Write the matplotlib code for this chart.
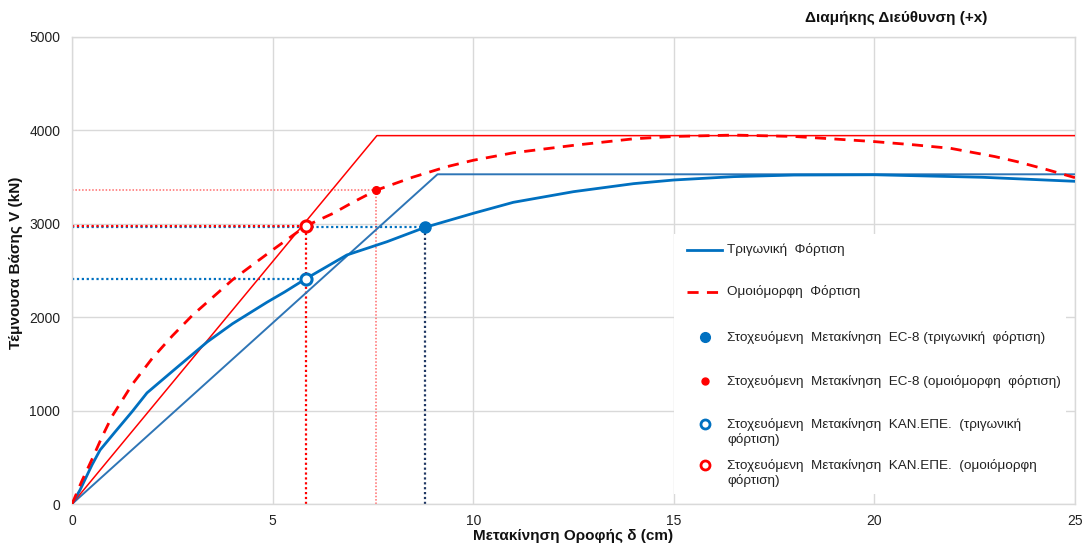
import matplotlib
matplotlib.use("Agg")
import matplotlib.pyplot as plt
from matplotlib.patches import Rectangle
from matplotlib.lines import Line2D

plt.rcParams['font.family'] = ['Liberation Sans', 'DejaVu Sans']

# ---------------- data ----------------
tri_x = [0, 0.2, 0.5, 0.7, 1.07, 1.5, 1.87, 2.5, 3.37, 4.0, 4.86, 5.3, 5.83, 6.85, 7.85, 8.8,
         10.0, 11.0, 12.5, 14.0, 15.0, 16.5, 18.0, 20.0, 21.0, 22.7, 25.0]
tri_v = [0, 150, 420, 578, 770, 990, 1190, 1420, 1735, 1930, 2160, 2270, 2412, 2666, 2808, 2962,
         3112, 3230, 3344, 3430, 3469, 3505, 3522, 3525, 3515, 3498, 3455]

uni_x = [0, 0.25, 0.5, 0.75, 1.0, 1.5, 2.0, 2.5, 3.0, 3.5, 4.0, 4.5, 5.0, 5.83, 6.5, 7.0, 7.58,
         8.5, 9.34, 10.0, 11.0, 12.5, 14.0, 15.0, 16.5, 18.0, 19.4, 20.0, 21.0, 21.9, 23.0, 23.56,
         24.3, 25.0]
uni_v = [0, 250, 480, 720, 940, 1280, 1560, 1800, 2020, 2210, 2400, 2560, 2720, 2977, 3110, 3230,
         3359, 3500, 3611, 3680, 3760, 3840, 3910, 3935, 3950, 3935, 3897, 3880, 3845, 3808, 3720,
         3665, 3580, 3494]

tri_bil_x = [0, 9.11, 25]
tri_bil_v = [0, 3530, 3530]
uni_bil_x = [0, 7.6, 25]
uni_bil_v = [0, 3944, 3944]

ec8_tri = (8.8, 2962)
ec8_uni = (7.58, 3359)
kan_tri = (5.83, 2412)
kan_uni = (5.83, 2977)

x_ticks = [0, 5, 10, 15, 20, 25]
y_ticks = [0, 1000, 2000, 3000, 4000, 5000]

title = "Διαμήκης Διεύθυνση (+x)"
xlabel = "Μετακίνηση Οροφής δ (cm)"
ylabel = "Τέμνουσα Βάσης V (kN)"
legend_labels = [
    "Τριγωνική  Φόρτιση",
    "Ομοιόμορφη  Φόρτιση",
    "Στοχευόμενη  Μετακίνηση  EC-8 (τριγωνική  φόρτιση)",
    "Στοχευόμενη  Μετακίνηση  EC-8 (ομοιόμορφη  φόρτιση)",
    "Στοχευόμενη  Μετακίνηση  ΚΑΝ.ΕΠΕ.  (τριγωνική\nφόρτιση)",
    "Στοχευόμενη  Μετακίνηση  ΚΑΝ.ΕΠΕ.  (ομοιόμορφη\nφόρτιση)",
]

# ---------------- style ----------------
BLUE = "#0070C0"
BLUE2 = "#2E75B6"
RED = "#FF0000"
LRED = "#FF6B6B"
NAVY = "#203864"
GRID = "#D9D9D9"

W, H = 1088, 545
fig = plt.figure(figsize=(W / 100, H / 100), dpi=100)
L, R, B, T = 72, 1075, 504, 37
ax = fig.add_axes([L / W, 1 - B / H, (R - L) / W, (B - T) / H])

ax.set_xlim(0, 25)
ax.set_ylim(0, 5000)
ax.set_xticks(x_ticks)
ax.set_yticks(y_ticks)
ax.grid(True, color=GRID, lw=1, zorder=0)
for s in ax.spines.values():
    s.set_color(GRID)
    s.set_linewidth(1)
ax.tick_params(length=0, labelsize=10, colors="#222222")
ax.tick_params(axis='x', pad=7)
ax.tick_params(axis='y', pad=8.5)

# guide lines (dotted)
dot = (0, (1, 1.2))
ax.plot([0, kan_tri[0]], [kan_tri[1]] * 2, color=BLUE, lw=1.6, ls=dot, zorder=2)
ax.plot([0, ec8_tri[0]], [ec8_tri[1]] * 2, color=BLUE, lw=1.6, ls=dot, zorder=2)
ax.plot([ec8_tri[0]] * 2, [0, ec8_tri[1]], color=NAVY, lw=1.6, ls=dot, zorder=2)
ax.plot([0, kan_uni[0]], [kan_uni[1]] * 2, color=RED, lw=1.6, ls=dot, zorder=2)
ax.plot([kan_uni[0]] * 2, [0, kan_uni[1]], color=RED, lw=1.6, ls=dot, zorder=2)
ax.plot([0, ec8_uni[0]], [ec8_uni[1]] * 2, color=LRED, lw=1.1, ls=dot, zorder=2)
ax.plot([ec8_uni[0]] * 2, [0, ec8_uni[1]], color=LRED, lw=1.1, ls=dot, zorder=2)

# curves
ax.plot(tri_bil_x, tri_bil_v, color=BLUE2, lw=1.4, zorder=3)
ax.plot(uni_bil_x, uni_bil_v, color=RED, lw=1.1, zorder=3)
ax.plot(tri_x, tri_v, color=BLUE, lw=2.0, zorder=4)
ax.plot(uni_x, uni_v, color=RED, lw=2.0, ls=(0, (4, 3)), zorder=4)

# markers
ax.plot(*ec8_tri, 'o', color=BLUE, ms=8, zorder=6)
ax.plot(*ec8_uni, 'o', color=RED, ms=5.5, zorder=6)
ax.plot(*kan_tri, 'o', mfc='white', mec=BLUE, mew=2.2, ms=8, zorder=6)
ax.plot(*kan_uni, 'o', mfc='white', mec=RED, mew=2.2, ms=8, zorder=6)

# ---------------- legend (manual, in pixel-based axes fractions) ----------------
def fx(px):
    return (px - L) / (R - L)

def fy(py):
    return (B - py) / (B - T)

ax.add_patch(Rectangle((fx(674), fy(494)), fx(1066) - fx(674), fy(234) - fy(494),
                       transform=ax.transAxes, facecolor='white', edgecolor='none',
                       zorder=7))
rows_y = [250, 292, 337, 381, 432, 473]
hx0, hx1, hm, tx = 687, 722, 705, 727
handles = [
    dict(kind='line', color=BLUE, ls='-'),
    dict(kind='line', color=RED, ls=(0, (4, 3))),
    dict(kind='mk', mfc=BLUE, mec=BLUE, ms=7, mew=1),
    dict(kind='mk', mfc=RED, mec=RED, ms=5, mew=1),
    dict(kind='mk', mfc='white', mec=BLUE, ms=6.5, mew=2),
    dict(kind='mk', mfc='white', mec=RED, ms=6.5, mew=2),
]
for yy, h, lab in zip(rows_y, handles, legend_labels):
    nl = lab.count("\n") + 1
    hy = yy - (nl - 1) * 8
    if h['kind'] == 'line':
        ax.add_line(Line2D([fx(hx0), fx(hx1)], [fy(hy)] * 2, transform=ax.transAxes,
                           color=h['color'], ls=h['ls'], lw=2.0, zorder=8))
    else:
        ax.add_line(Line2D([fx(hm)], [fy(hy)], transform=ax.transAxes, marker='o',
                           ls='none', mfc=h['mfc'], mec=h['mec'], ms=h['ms'],
                           mew=h['mew'], zorder=8))
    ax.text(fx(tx), fy(yy), lab, transform=ax.transAxes, fontsize=9.7, color="#222222",
            va='center', ha='left', linespacing=1.2, zorder=9)

# ---------------- titles ----------------
fig.text(896 / W, 1 - 18 / H, title, ha='center', va='center', fontsize=11,
         fontweight='bold', color="#111111")
fig.text(573 / W, 1 - 536 / H, xlabel, ha='center', va='center', fontsize=11,
         fontweight='bold', color="#111111")
fig.text(16 / W, 1 - 263 / H, ylabel, ha='center', va='center', fontsize=11,
         fontweight='bold', rotation=90, color="#111111")

fig.savefig("out.png", dpi=100)
